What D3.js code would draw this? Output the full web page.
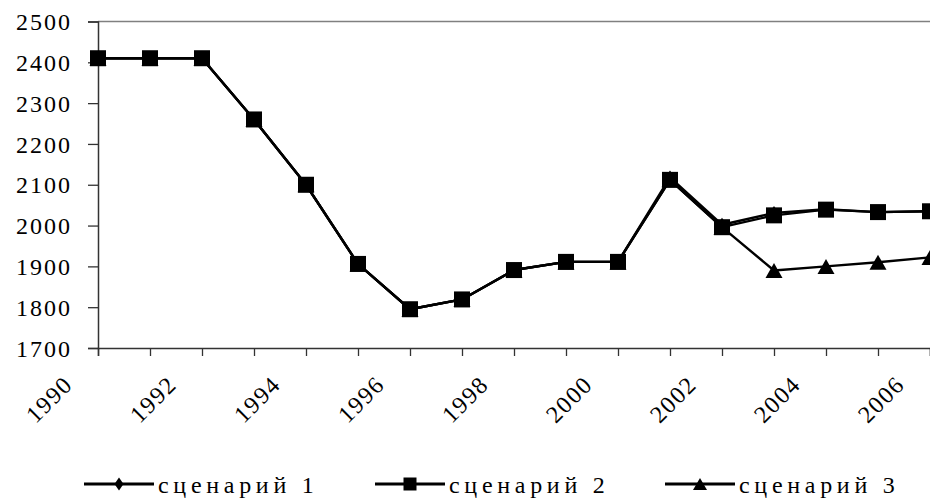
<!DOCTYPE html>
<html><head><meta charset="utf-8">
<script src="https://cdn.jsdelivr.net/npm/d3@7"></script>
<style>body{margin:0;background:#fff}svg{display:block}</style>
</head><body>
<svg id="c" width="930" height="499"></svg>
<script>
const years = [1990,1991,1992,1993,1994,1995,1996,1997,1998,1999,2000,2001,2002,2003,2004,2005,2006];
const yearLabels = [1990,1992,1994,1996,1998,2000,2002,2004,2006];
const yTicks = [1700,1800,1900,2000,2100,2200,2300,2400,2500];
const scenario1 = [2410,2410,2410,2260,2100,1906,1795,1819,1891,1911,1911,2118,2002,2031,2040,2033,2035];
const scenario2 = [2410,2410,2410,2260,2100,1906,1795,1819,1891,1911,1911,2112,1996,2025,2039,2033,2035];
const scenario3 = [2410,2410,2410,2260,2100,1906,1795,1819,1891,1911,1911,2112,1996,1890,1900,1910,1922];
const seriesNames = ["сценарий 1","сценарий 2","сценарий 3"];

const FONT = '"Liberation Serif", "Times New Roman", serif';
const svg = d3.select("#c");
const x = d3.scalePoint().domain(years).range([98, 930]).padding(0);
const y = d3.scaleLinear().domain([1700, 2500]).range([348, 21.5]);

const diamond = (w, h) => ({draw(c){c.moveTo(0,-h/2);c.lineTo(w/2,0);c.lineTo(0,h/2);c.lineTo(-w/2,0);c.closePath();}});
const square = (s) => ({draw(c){c.rect(-s/2,-s/2,s,s);}});
const triangle = (w, h) => ({draw(c){c.moveTo(0,-h/2);c.lineTo(w/2,h/2);c.lineTo(-w/2,h/2);c.closePath();}});

svg.append("line").attr("x1", 98).attr("x2", 930).attr("y1", y(2500)).attr("y2", y(2500))
  .attr("stroke", "#808080").attr("stroke-width", 1.5);

const gy = svg.append("g").attr("transform", "translate(98,0)")
  .call(d3.axisLeft(y).tickValues(yTicks).tickSize(10).tickPadding(16).tickFormat(d3.format("d")));
gy.select(".domain").attr("stroke", "#333").attr("stroke-width", 1.5);
gy.selectAll(".tick line").attr("stroke", "#333").attr("stroke-width", 1.3);
gy.selectAll(".tick text").style("font-family", FONT).attr("font-size", 24).attr("letter-spacing", 2)
  .attr("fill", "#000").attr("dy", "0.34em");

const gx = svg.append("g").attr("transform", "translate(0,348)")
  .call(d3.axisBottom(x).tickValues(years).tickSize(8).tickFormat(""));
gx.select(".domain").attr("stroke", "#333").attr("stroke-width", 1.5);
gx.selectAll(".tick line").attr("stroke", "#333").attr("stroke-width", 1.3);

svg.append("g").selectAll("text").data(yearLabels).join("text")
  .attr("transform", d => `translate(${x(d) - 24},386) rotate(-45)`)
  .attr("text-anchor", "end").style("font-family", FONT).attr("font-size", 24).attr("letter-spacing", 1.5)
  .attr("fill", "#000").text(d => d);

const line = d3.line().x((d, i) => x(years[i])).y(d => y(d));
const series = [scenario1, scenario2, scenario3];
const markers = [diamond(10, 14), square(16), triangle(17, 15)];
const legMarkers = [diamond(9, 13), square(13), triangle(14, 12)];

series.forEach((s, k) => {
  const g = svg.append("g");
  g.append("path").datum(s).attr("d", line).attr("fill", "none").attr("stroke", "#000")
    .attr("stroke-width", 2.4).attr("stroke-linejoin", "round");
  g.selectAll("path.m").data(s).join("path").attr("class", "m")
    .attr("transform", (d, i) => `translate(${x(years[i])},${y(d)})`)
    .attr("d", d3.symbol().type(markers[k]))
    .attr("fill", "#000");
});

const legX = [84, 375, 665];
const lg = svg.append("g");
seriesNames.forEach((name, k) => {
  const g = lg.append("g").attr("transform", `translate(${legX[k]},484)`);
  g.append("line").attr("x1", 0).attr("x2", 70).attr("stroke", "#000").attr("stroke-width", 3);
  g.append("path").attr("transform", "translate(35,0)")
    .attr("d", d3.symbol().type(legMarkers[k])).attr("fill", "#000");
  g.append("text").attr("x", 74).attr("y", 9).style("font-family", FONT).attr("font-size", 24)
    .attr("letter-spacing", 4.7).attr("fill", "#000").text(name);
});
</script>
</body></html>
